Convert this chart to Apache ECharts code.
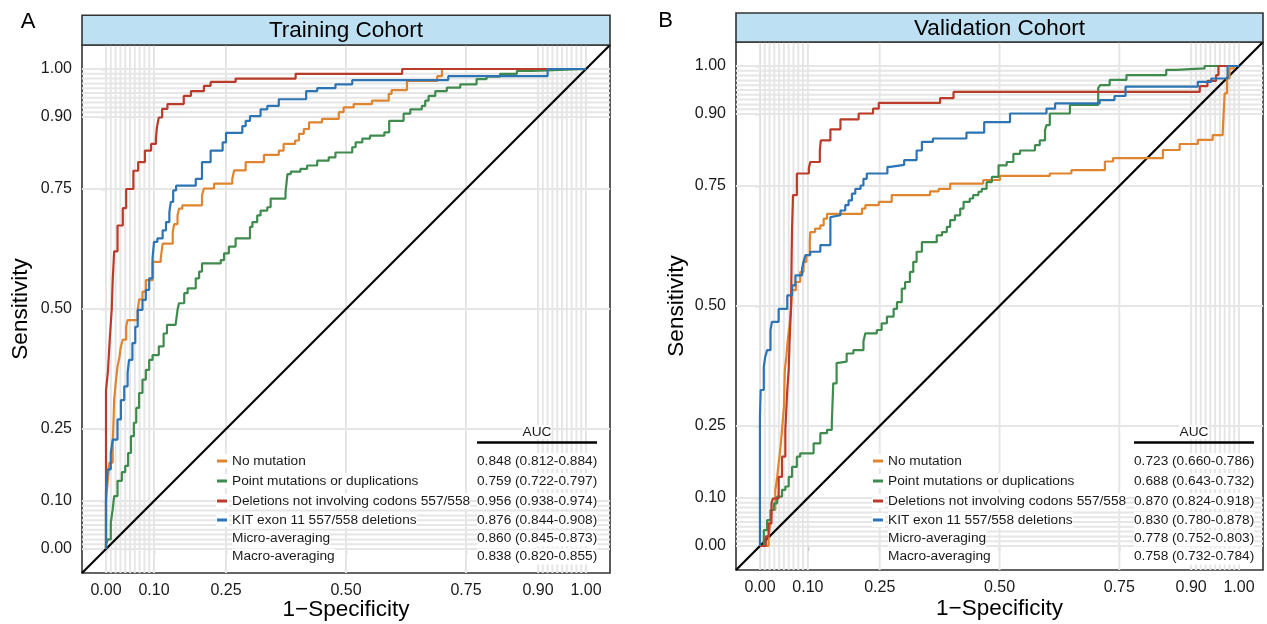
<!DOCTYPE html>
<html>
<head>
<meta charset="utf-8">
<script src="https://cdn.jsdelivr.net/npm/echarts@6/dist/echarts.min.js"></script>
<style>
html,body{margin:0;padding:0;background:#fff;}
#chart{width:1267px;height:624px;}
</style>
</head>
<body>
<div id="chart"></div>
<script>
// ---------------- DATA ----------------
const panelLetters = ['A', 'B'];
const panelTitles = ['Training Cohort', 'Validation Cohort'];
const xTitle = '1\u2212Specificity';
const yTitle = 'Sensitivity';
const tickValues = [0, 0.10, 0.25, 0.50, 0.75, 0.90, 1.00];
const tickLabels = ['0.00', '0.10', '0.25', '0.50', '0.75', '0.90', '1.00'];
const gridBreaks = [0, 0.01, 0.02, 0.03, 0.04, 0.05, 0.06, 0.07, 0.08, 0.09, 0.10,
  0.25, 0.50, 0.75,
  0.90, 0.91, 0.92, 0.93, 0.94, 0.95, 0.96, 0.97, 0.98, 0.99, 1.00];
const classNames = ['No mutation', 'Point mutations or duplications',
  'Deletions not involving codons 557/558', 'KIT exon 11 557/558 deletions'];
const averageNames = ['Micro-averaging', 'Macro-averaging'];
const classColors = ['#E0852F', '#3F8B4E', '#BA3B2A', '#2D74B4'];
const aucHeader = 'AUC';
const aucTraining = ['0.848 (0.812-0.884)', '0.759 (0.722-0.797)', '0.956 (0.938-0.974)',
  '0.876 (0.844-0.908)', '0.860 (0.845-0.873)', '0.838 (0.820-0.855)'];
const aucValidation = ['0.723 (0.660-0.786)', '0.688 (0.643-0.732)', '0.870 (0.824-0.918)',
  '0.830 (0.780-0.878)', '0.778 (0.752-0.803)', '0.758 (0.732-0.784)'];
const chanceLine = [-0.05, 1.05];

// ROC points [FPR, TPR] (left ends of each horizontal run)
const trainNoMutation = [[0,0],[0,0.10],[0.0035,0.14],[0.007,0.18],[0.014,0.22],[0.016,0.277],[0.017,0.311],[0.021,0.353],[0.024,0.38],[0.028,0.40],[0.031,0.422],[0.035,0.436],[0.042,0.463],[0.045,0.477],[0.066,0.498],[0.069,0.52],[0.076,0.536],[0.083,0.56],[0.097,0.598],[0.114,0.605],[0.118,0.636],[0.139,0.66],[0.142,0.677],[0.149,0.695],[0.152,0.709],[0.159,0.716],[0.20,0.737],[0.204,0.751],[0.225,0.761],[0.263,0.771],[0.267,0.789],[0.291,0.806],[0.329,0.821],[0.36,0.83],[0.37,0.844],[0.394,0.851],[0.402,0.865],[0.412,0.875],[0.423,0.889],[0.45,0.896],[0.485,0.91],[0.495,0.92],[0.516,0.927],[0.554,0.934],[0.589,0.948],[0.595,0.956],[0.627,0.975],[0.69,0.985],[0.70,1.0],[1,1]];
const trainPointMut = [[0,0],[0,0.01],[0.004,0.02],[0.01,0.055],[0.014,0.083],[0.017,0.11],[0.024,0.142],[0.033,0.16],[0.04,0.173],[0.046,0.2],[0.052,0.235],[0.058,0.263],[0.063,0.294],[0.069,0.325],[0.076,0.353],[0.083,0.373],[0.09,0.394],[0.097,0.404],[0.11,0.422],[0.12,0.449],[0.127,0.467],[0.145,0.47],[0.149,0.498],[0.152,0.512],[0.163,0.533],[0.17,0.543],[0.187,0.564],[0.194,0.578],[0.20,0.595],[0.239,0.602],[0.246,0.616],[0.256,0.63],[0.27,0.647],[0.30,0.671],[0.305,0.681],[0.315,0.695],[0.322,0.705],[0.336,0.712],[0.343,0.73],[0.374,0.743],[0.378,0.781],[0.385,0.786],[0.405,0.792],[0.419,0.799],[0.44,0.809],[0.464,0.816],[0.478,0.826],[0.513,0.837],[0.52,0.847],[0.534,0.855],[0.55,0.861],[0.58,0.868],[0.59,0.892],[0.62,0.907],[0.634,0.916],[0.658,0.923],[0.665,0.934],[0.672,0.944],[0.686,0.954],[0.71,0.961],[0.738,0.968],[0.772,0.979],[0.793,0.984],[0.821,0.99],[0.856,0.996],[0.89,1.0],[1,1]];
const trainDeletion = [[0,0],[0,0.33],[0.004,0.37],[0.008,0.44],[0.012,0.50],[0.014,0.56],[0.017,0.62],[0.024,0.674],[0.035,0.71],[0.042,0.75],[0.057,0.788],[0.067,0.806],[0.081,0.83],[0.094,0.844],[0.104,0.854],[0.106,0.878],[0.110,0.899],[0.117,0.917],[0.128,0.927],[0.162,0.944],[0.177,0.954],[0.204,0.965],[0.218,0.973],[0.27,0.98],[0.395,0.99],[0.617,1.0],[1,1]];
const trainKit557 = [[0,0],[0,0.12],[0.0035,0.166],[0.010,0.20],[0.014,0.228],[0.024,0.27],[0.031,0.31],[0.038,0.339],[0.045,0.367],[0.048,0.394],[0.055,0.429],[0.061,0.463],[0.066,0.498],[0.076,0.519],[0.083,0.54],[0.09,0.564],[0.097,0.606],[0.100,0.64],[0.107,0.647],[0.118,0.664],[0.125,0.681],[0.132,0.702],[0.135,0.723],[0.14,0.747],[0.146,0.757],[0.187,0.771],[0.20,0.806],[0.218,0.83],[0.243,0.847],[0.25,0.867],[0.284,0.881],[0.291,0.892],[0.30,0.902],[0.322,0.916],[0.336,0.923],[0.36,0.937],[0.417,0.954],[0.44,0.96],[0.478,0.968],[0.513,0.977],[0.713,0.985],[0.92,1.0],[1,1]];

const validNoMutation = [[0,0],[0.018,0],[0.018,0.02],[0.022,0.047],[0.025,0.075],[0.032,0.116],[0.036,0.144],[0.039,0.172],[0.043,0.206],[0.046,0.242],[0.05,0.29],[0.052,0.367],[0.055,0.394],[0.058,0.429],[0.062,0.463],[0.065,0.498],[0.067,0.533],[0.075,0.55],[0.084,0.571],[0.091,0.592],[0.097,0.606],[0.104,0.633],[0.105,0.654],[0.115,0.661],[0.126,0.668],[0.133,0.682],[0.14,0.692],[0.213,0.703],[0.22,0.71],[0.248,0.717],[0.275,0.731],[0.355,0.739],[0.373,0.744],[0.397,0.755],[0.466,0.7625],[0.501,0.771],[0.605,0.776],[0.65,0.783],[0.72,0.801],[0.737,0.808],[0.841,0.825],[0.876,0.8375],[0.914,0.846],[0.945,0.856],[0.966,0.863],[0.97,0.943],[0.975,0.974],[0.98,0.995],[0.99,1.0],[1,1]];
const validPointMut = [[0,0],[0.008,0.033],[0.015,0.054],[0.022,0.075],[0.029,0.089],[0.036,0.103],[0.046,0.117],[0.053,0.124],[0.06,0.144],[0.067,0.165],[0.077,0.186],[0.084,0.193],[0.112,0.214],[0.126,0.235],[0.14,0.242],[0.15,0.256],[0.153,0.339],[0.16,0.381],[0.164,0.384],[0.181,0.401],[0.195,0.408],[0.216,0.426],[0.22,0.443],[0.244,0.45],[0.254,0.464],[0.265,0.478],[0.279,0.494],[0.286,0.508],[0.296,0.536],[0.303,0.55],[0.313,0.571],[0.32,0.592],[0.327,0.613],[0.338,0.633],[0.369,0.647],[0.38,0.654],[0.39,0.665],[0.397,0.679],[0.407,0.689],[0.418,0.703],[0.425,0.717],[0.438,0.724],[0.445,0.731],[0.456,0.738],[0.463,0.744],[0.473,0.758],[0.484,0.769],[0.498,0.793],[0.515,0.80],[0.529,0.817],[0.543,0.824],[0.574,0.835],[0.584,0.845],[0.595,0.866],[0.598,0.877],[0.605,0.901],[0.647,0.919],[0.706,0.954],[0.71,0.96],[0.73,0.971],[0.765,0.981],[0.848,0.992],[0.869,0.995],[0.928,1.0],[1,1]];
const validDeletion = [[0,0],[0.012,0.02],[0.018,0.047],[0.024,0.089],[0.027,0.099],[0.039,0.144],[0.046,0.186],[0.053,0.242],[0.057,0.325],[0.06,0.367],[0.062,0.429],[0.065,0.50],[0.066,0.599],[0.067,0.661],[0.069,0.731],[0.077,0.776],[0.102,0.787],[0.105,0.80],[0.125,0.824],[0.127,0.845],[0.147,0.868],[0.168,0.889],[0.206,0.901],[0.236,0.911],[0.248,0.923],[0.376,0.933],[0.404,0.946],[0.918,0.958],[0.934,0.969],[0.952,0.981],[0.957,1.0],[1,1]];
const validKit557 = [[0,0],[0,0.27],[0.0015,0.325],[0.008,0.373],[0.011,0.394],[0.015,0.408],[0.022,0.45],[0.025,0.467],[0.039,0.494],[0.057,0.522],[0.067,0.543],[0.074,0.564],[0.088,0.578],[0.091,0.592],[0.095,0.606],[0.105,0.613],[0.126,0.627],[0.147,0.685],[0.15,0.689],[0.168,0.699],[0.178,0.71],[0.185,0.72],[0.192,0.734],[0.199,0.744],[0.21,0.751],[0.216,0.765],[0.223,0.776],[0.266,0.79],[0.272,0.794],[0.301,0.804],[0.327,0.824],[0.338,0.842],[0.361,0.849],[0.431,0.861],[0.468,0.883],[0.522,0.901],[0.598,0.911],[0.616,0.922],[0.709,0.929],[0.74,0.9375],[0.763,0.957],[0.914,0.967],[0.942,0.974],[0.976,1.0],[1,1]];

// ---------------- LAYOUT / STYLE ----------------
const FONT = 'Liberation Sans, Arial, Helvetica, sans-serif';
const panels = [
  { grid: {left: 82, top: 45, width: 528, height: 528}, strip: {y: 15.3, h: 29.7},
    letter: [28, 21.5], yNameGap: 50, xNameGap: 25.5,
    curves: [trainNoMutation, trainPointMut, trainDeletion, trainKit557], auc: aucTraining,
    leg: {sw: 217, tx: 232, vx: 477, lineEnd: 597} },
  { grid: {left: 736, top: 42, width: 527, height: 528}, strip: {y: 13, h: 29},
    letter: [665.5, 20.5], yNameGap: 48, xNameGap: 27,
    curves: [validNoMutation, validPointMut, validDeletion, validKit557], auc: aucValidation,
    leg: {sw: 873, tx: 888, vx: 1134, lineEnd: 1254} }
];
const rowY = [461, 481, 501, 520, 538.5, 556.5];
const headerY = 432, ruleY = 442.5;

function fmt(v) {
  for (let i = 0; i < tickValues.length; i++) if (Math.abs(v - tickValues[i]) < 1e-9) return tickLabels[i];
  return '';
}

const chart = echarts.init(document.getElementById('chart'), null, {renderer: 'canvas'});
const grids = [], xAxes = [], yAxes = [], series = [], graphics = [];

function renderGridLines(params, api) {
  const v = api.value(0);
  const a = api.coord([v, chanceLine[0]]);
  const b = api.coord([v, chanceLine[1]]);
  const c = api.coord([chanceLine[0], v]);
  const d = api.coord([chanceLine[1], v]);
  const st = {stroke: '#E6E6E6', lineWidth: 2, fill: null};
  return {
    type: 'group',
    children: [
      {type: 'line', shape: {x1: a[0], y1: a[1], x2: b[0], y2: b[1]}, style: st},
      {type: 'line', shape: {x1: c[0], y1: c[1], x2: d[0], y2: d[1]}, style: st}
    ]
  };
}

panels.forEach((p, i) => {
  grids.push(Object.assign({show: true, borderColor: '#333333', borderWidth: 1.6, backgroundColor: '#ffffff',
    containLabel: false, outerBoundsMode: 'none'}, p.grid));
  const axisCommon = {
    gridIndex: i, type: 'value', min: chanceLine[0], max: chanceLine[1],
    axisLine: {show: true, lineStyle: {color: '#333333', width: 1.6}},
    axisTick: {show: true, customValues: tickValues, length: 5, lineStyle: {color: '#333333', width: 1.2}},
    axisLabel: {customValues: tickValues, formatter: fmt, fontSize: 16, color: '#1a1a1a', fontFamily: FONT, margin: 10},
    splitLine: {show: false},
    nameLocation: 'middle',
    nameMoveOverlap: false,
    nameTextStyle: {fontSize: 22.5, color: '#000', fontFamily: FONT}
  };
  xAxes.push(Object.assign({}, axisCommon, {name: xTitle, nameGap: p.xNameGap}));
  yAxes.push(Object.assign({}, axisCommon, {name: yTitle, nameGap: p.yNameGap}));

  // grid lines (custom series)
  series.push({
    type: 'custom', xAxisIndex: i, yAxisIndex: i, z: 1, silent: true, animation: false,
    data: gridBreaks.map(v => [v, v]),
    encode: {x: 0, y: 1},
    clip: true,
    renderItem: renderGridLines
  });
  // chance diagonal
  series.push({
    type: 'line', xAxisIndex: i, yAxisIndex: i, z: 3, silent: true, showSymbol: false,
    data: [[chanceLine[0], chanceLine[0]], [chanceLine[1], chanceLine[1]]],
    lineStyle: {color: '#000', width: 2.2}, animation: false
  });
  // ROC curves
  p.curves.forEach((d, k) => {
    series.push({
      type: 'line', name: classNames[k], xAxisIndex: i, yAxisIndex: i, z: 6 + k,
      data: d, step: 'end', showSymbol: false, silent: true, animation: false,
      lineStyle: {color: classColors[k], width: 2.2}
    });
  });

  // strip
  const g = p.grid;
  graphics.push({type: 'rect', shape: {x: g.left, y: p.strip.y, width: g.width, height: p.strip.h},
    style: {fill: '#BDE0F2', stroke: '#333333', lineWidth: 1.6}, z: 100});
  graphics.push({type: 'text', x: g.left + g.width / 2, y: p.strip.y + p.strip.h / 2 + 1, z: 101,
    style: {text: panelTitles[i], font: '22.5px ' + FONT, fill: '#000', align: 'center', verticalAlign: 'middle'}});
  // panel letter
  graphics.push({type: 'text', x: p.letter[0], y: p.letter[1], z: 101,
    style: {text: panelLetters[i], font: '22px ' + FONT, fill: '#000', align: 'center', verticalAlign: 'middle'}});

  // legend table
  const L = p.leg;
  const legendLabels = classNames.concat(averageNames);
  legendLabels.forEach((lab, r) => {
    if (r < classNames.length) {
      graphics.push({type: 'rect', shape: {x: L.sw - 1, y: rowY[r] - 7, width: 13, height: 14},
        style: {fill: '#ffffff'}, z: 100});
      graphics.push({type: 'rect', shape: {x: L.sw, y: rowY[r] - 1.5, width: 10, height: 3},
        style: {fill: classColors[r]}, z: 101});
    }
    graphics.push({type: 'text', x: L.tx, y: rowY[r], z: 101,
      style: {text: lab, font: '13.7px ' + FONT, fill: '#1a1a1a', align: 'left', verticalAlign: 'middle',
        backgroundColor: '#ffffff', padding: [1, 0, 1, 0]}});
    graphics.push({type: 'text', x: L.vx, y: rowY[r], z: 101,
      style: {text: p.auc[r], font: '13.7px ' + FONT, fill: '#1a1a1a', align: 'left', verticalAlign: 'middle',
        backgroundColor: '#ffffff', padding: [1, 0, 1, 0]}});
  });
  graphics.push({type: 'text', x: (L.vx + L.lineEnd) / 2, y: headerY, z: 101,
    style: {text: aucHeader, font: '13.7px ' + FONT, fill: '#1a1a1a', align: 'center', verticalAlign: 'middle',
      backgroundColor: '#ffffff'}});
  graphics.push({type: 'line', shape: {x1: L.vx, y1: ruleY, x2: L.lineEnd, y2: ruleY},
    style: {stroke: '#000', lineWidth: 2.4}, z: 101});
});

chart.setOption({
  animation: false,
  backgroundColor: '#ffffff',
  textStyle: {fontFamily: FONT},
  grid: grids,
  xAxis: xAxes,
  yAxis: yAxes,
  series: series,
  graphic: {elements: graphics}
});
</script>
</body>
</html>
